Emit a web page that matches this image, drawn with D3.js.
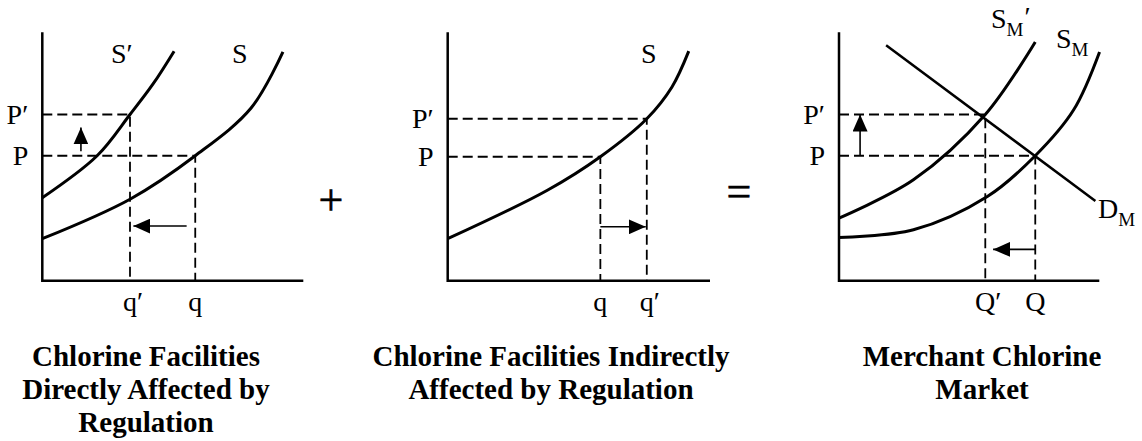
<!DOCTYPE html>
<html>
<head>
<meta charset="utf-8">
<script src="https://cdn.jsdelivr.net/npm/d3@7"></script>
<style>
  body { margin: 0; background: #fff; }
  svg { display: block; }
  text { font-family: "Liberation Serif", "Times New Roman", serif; fill: #000; }
</style>
</head>
<body>
<script>
// curves, in units of 0-100 on both axes
const directS      = [[0, 16.9], [33.6, 32.8], [58.6, 50.3], [80, 69.5], [92.2, 92.1]];
const directSPrime = [[0, 33.4], [21, 50.3], [33.6, 66.9], [42.5, 79.3], [50.5, 92.4]];
const indirectS    = [[0, 16.9], [38, 36.4], [58.2, 49.9], [75.9, 65.2], [85.5, 78], [91.9, 92.4]];
const marketSPrime = [[0, 25.2], [28.6, 40.6], [56.2, 66.9], [75.4, 96.1]];
const marketS      = [[0, 17.4], [28.6, 20.5], [57, 33.9], [75.4, 50.3], [90.1, 68.7], [100.1, 92.1]];
const marketD      = [[18.1, 94.8], [98.5, 32.1]];

// equilibrium points [q, p] before and after
const directEq   = { before: [58.6, 50.3], after: [33.6, 66.9] };
const indirectEq = { before: [58.2, 49.9], after: [75.9, 65.2] };
const marketEq   = { before: [75.4, 50.3], after: [56.2, 66.9] };

// shift arrows [x1, y1, x2, y2]
const directArrows   = [[14.8, 52.1, 14.8, 61.7], [55.3, 22, 34.9, 22]];
const indirectArrows = [[58.2, 21.7, 75.5, 21.7]];
const marketArrows   = [[8.1, 50.3, 8.1, 66.9], [75.4, 12.6, 59.2, 12.6]];

const titles = [
  ["Chlorine Facilities", "Directly Affected by", "Regulation"],
  ["Chlorine Facilities Indirectly", "Affected by Regulation"],
  ["Merchant Chlorine", "Market"]
];

const W = 1142, H = 441;
const svg = d3.select("body").append("svg").attr("width", W).attr("height", H);

svg.append("defs").append("marker")
  .attr("id", "head")
  .attr("viewBox", "0 0 17 15")
  .attr("refX", 17).attr("refY", 7.5)
  .attr("markerWidth", 17).attr("markerHeight", 15)
  .attr("markerUnits", "userSpaceOnUse")
  .attr("orient", "auto")
  .append("path").attr("d", "M0,0L17,7.5L0,15Z").attr("fill", "#000");

const panels = [
  { left: 42.3, width: 261, curves: [directS, directSPrime], eq: directEq, arrows: directArrows,
    pLabels: ["P", "P\u2032"], qLabels: ["q", "q\u2032"], cx: 146 },
  { left: 447.7, width: 262.3, curves: [indirectS], eq: indirectEq, arrows: indirectArrows,
    pLabels: ["P", "P\u2032"], qLabels: ["q", "q\u2032"], cx: 551 },
  { left: 839, width: 260.3, curves: [marketS, marketSPrime], eq: marketEq, arrows: marketArrows,
    pLabels: ["P", "P\u2032"], qLabels: ["Q", "Q\u2032"], cx: 982, demand: marketD }
];

const axisBottom = 280.7, axisTop = 32.3;
const line = d3.line().curve(d3.curveCatmullRom.alpha(0.5));

panels.forEach((p, i) => {
  const x = d3.scaleLinear().domain([0, 100]).range([p.left, p.left + p.width]);
  const y = d3.scaleLinear().domain([0, 100]).range([axisBottom, axisTop]);
  const g = svg.append("g");
  line.x(d => x(d[0])).y(d => y(d[1]));

  // dashed guides
  [p.eq.before, p.eq.after].forEach(e => {
    g.append("path")
      .attr("d", `M${x(0)},${y(e[1])}H${x(e[0])}V${y(0)}`)
      .attr("fill", "none").attr("stroke", "#000")
      .attr("stroke-width", 1.8).attr("stroke-dasharray", "10,5");
  });

  // axes
  g.append("path")
    .attr("d", `M${x(0)},${y(100)}V${y(0)}H${x(100)}`)
    .attr("fill", "none").attr("stroke", "#000").attr("stroke-width", 2.5);

  p.curves.forEach(c => {
    g.append("path").attr("d", line(c))
      .attr("fill", "none").attr("stroke", "#000").attr("stroke-width", 3);
  });
  if (p.demand) {
    g.append("path").attr("d", d3.line().x(d => x(d[0])).y(d => y(d[1]))(p.demand))
      .attr("fill", "none").attr("stroke", "#000").attr("stroke-width", 2.5);
  }

  p.arrows.forEach(a => {
    g.append("line")
      .attr("x1", x(a[0])).attr("y1", y(a[1]))
      .attr("x2", x(a[2])).attr("y2", y(a[3]))
      .attr("stroke", "#000").attr("stroke-width", 1.6)
      .attr("marker-end", "url(#head)");
  });

  // tick labels
  [p.eq.before, p.eq.after].forEach((e, k) => {
    g.append("text").attr("x", x(0) - 14).attr("y", y(e[1]) + 9.5)
      .attr("text-anchor", "end").attr("font-size", 28).text(p.pLabels[k]);
    g.append("text").attr("x", x(e[0]) + (k ? 3 : 0)).attr("y", 311)
      .attr("text-anchor", "middle").attr("font-size", 28).text(p.qLabels[k]);
  });

  // title
  const t = svg.append("text").attr("text-anchor", "middle")
    .attr("font-size", 29).attr("font-weight", "bold");
  titles[i].forEach((s, k) => {
    t.append("tspan").attr("x", p.cx).attr("y", 366 + k * 33).text(s);
  });
});

// curve names
const lbl = (x, y, s, sub, prime) => {
  const t = svg.append("text").attr("x", x).attr("y", y).attr("font-size", 28);
  t.append("tspan").text(s);
  if (sub) t.append("tspan").attr("font-size", 19).attr("dy", 8).text(sub);
  if (prime) t.append("tspan").attr("dx", 1).attr("dy", sub ? -10 : 0).text(prime);
};
lbl(111, 63, "S\u2032");
lbl(232, 63, "S");
lbl(641, 63, "S");
lbl(991, 28, "S", "M", "\u2032");
lbl(1056, 48, "S", "M");
lbl(1098, 218, "D", "M");

svg.append("text").attr("x", 331).attr("y", 215).attr("text-anchor", "middle")
  .attr("font-size", 44).attr("stroke", "#000").attr("stroke-width", 0.6).text("+");
svg.append("text").attr("x", 739).attr("y", 206).attr("text-anchor", "middle")
  .attr("font-size", 44).attr("stroke", "#000").attr("stroke-width", 0.6).text("=");
</script>
</body>
</html>
